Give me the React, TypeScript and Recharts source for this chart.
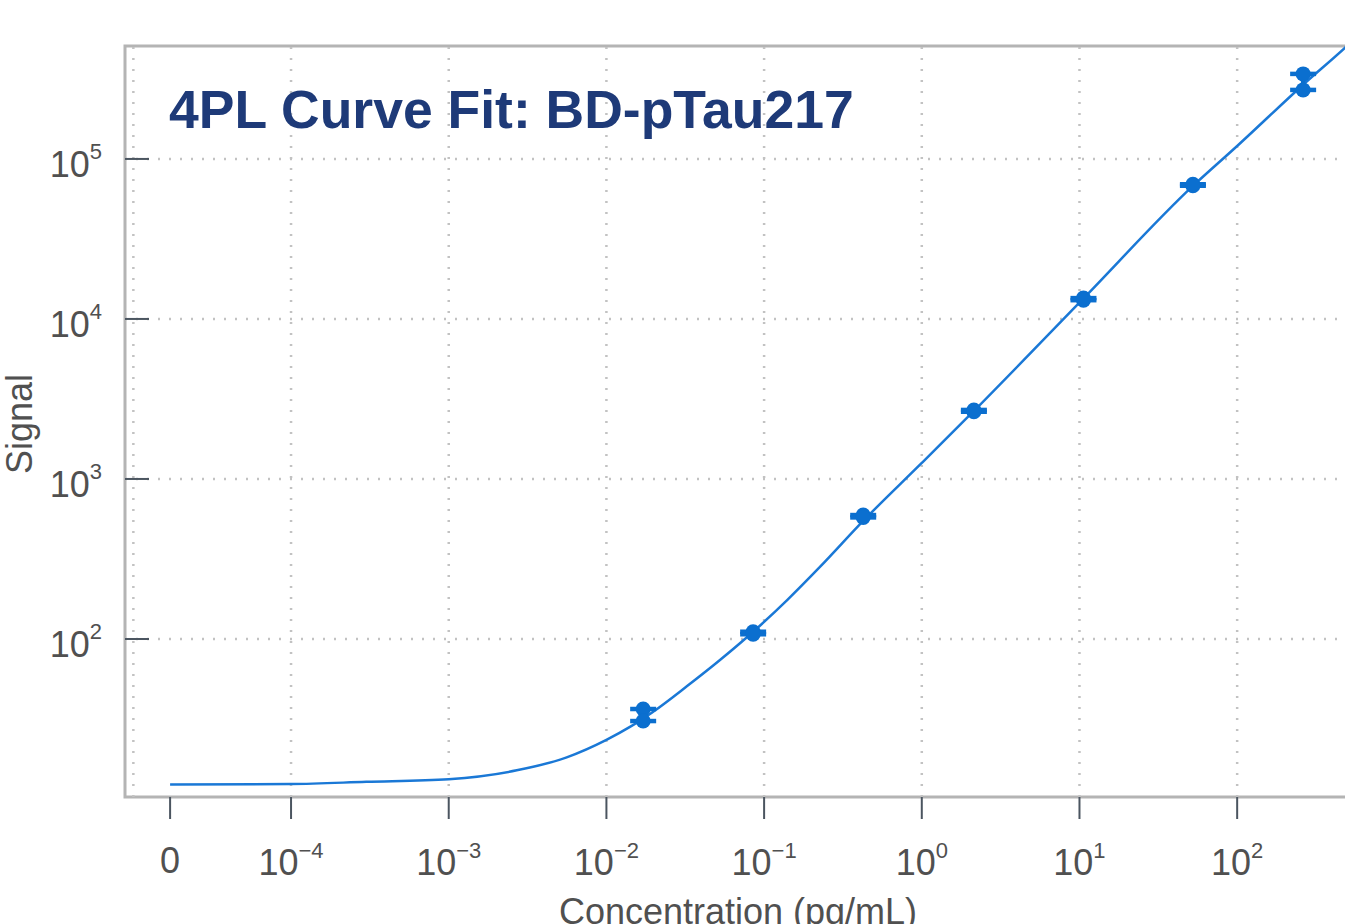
import React from 'react';
import {
  ComposedChart,
  Line,
  Scatter,
  XAxis,
  YAxis,
  ReferenceLine,
  ReferenceArea,
  ErrorBar,
} from 'recharts';

// ---- data ----
const standardConc = [0.0171, 0.0852, 0.425, 2.14, 10.6, 52.4, 262];
const signalRep1 = [36.5, 111, 595, 2700, 13500, 69500, 340000];
const signalRep2 = [30.7, 107, 575, 2630, 13100, 68000, 270000];

const curveConc = [
  0, 1e-4, 3.0e-4, 1e-3, 2.7e-3, 5.6e-3, 0.01, 0.0141, 0.0197, 0.0325, 0.0525,
  0.0849, 0.14, 0.226, 0.425, 1, 2.14, 10.5, 52.4, 100, 261, 482, 600,
];
const curveSignal = [
  12.3, 12.4, 12.8, 13.3, 15.1, 18.2, 23.4, 28.2, 35.0, 50.8, 73.9, 110.6, 175,
  282, 547, 1259, 2661, 13300, 67800, 120500, 290000, 494000, 604000,
];

const xTickDecades = [-4, -3, -2, -1, 0, 1, 2];
const gridDecades = [-5, -4, -3, -2, -1, 0, 1, 2];
const yTicks = [100, 1000, 10000, 100000];

const title = '4PL Curve Fit: BD-pTau217';
const xTitle = 'Concentration (pg/mL)';
const yTitle = 'Signal';

// axis break: where "0" sits on the log axis
const ZERO_LX = -4.767;
const X_DOMAIN: [number, number] = [-5.053, 2.779];
const Y_DOMAIN: [number, number] = [10.29, 508000];

const toLx = (c: number) => (c > 0 ? Math.log10(c) : ZERO_LX);

const curveData = curveConc.map((c, i) => ({ lx: toLx(c), signal: curveSignal[i] }));
const stdData = standardConc.map((c, i) => ({
  lx: toLx(c),
  rep1: signalRep1[i],
  rep2: signalRep2[i],
  err: [signalRep1[i] - signalRep2[i], 0],
}));

const FONT = '"Liberation Sans", Arial, Helvetica, sans-serif';
const TEXT = '#505050';
const TICK = '#4b5560';
const BLUE_LINE = '#1a78d6';
const BLUE_PT = '#0b6fcf';
const GRID = '#c2c2c2';

const supStr = (n: number) => (n < 0 ? '\u2212' + Math.abs(n) : String(n));

const XTick = (props: any) => {
  const { x, y, payload } = props;
  const v = payload.value;
  if (Math.abs(v - ZERO_LX) < 1e-6) {
    return (
      <text x={x} y={y + 54} textAnchor="middle" fontSize={36} fill={TEXT} fontFamily={FONT}>
        0
      </text>
    );
  }
  const e = Math.round(v);
  return (
    <text x={x} y={y + 56} textAnchor="middle" fill={TEXT} fontFamily={FONT}>
      <tspan fontSize={36}>10</tspan>
      <tspan fontSize={22} dy={-17}>
        {supStr(e)}
      </tspan>
    </text>
  );
};

const YTick = (props: any) => {
  const { x, y, payload } = props;
  const e = Math.round(Math.log10(payload.value));
  return (
    <g>
      <line x1={x} x2={x + 24} y1={y} y2={y} stroke={TICK} strokeWidth={2} />
      <text x={x - 23} y={y + 18} textAnchor="end" fill={TEXT} fontFamily={FONT}>
        <tspan fontSize={36}>10</tspan>
        <tspan fontSize={22} dy={-18}>
          {supStr(e)}
        </tspan>
      </text>
    </g>
  );
};

const Dot = (props: any) => {
  const { cx, cy } = props;
  if (cx == null || cy == null) return null;
  return <circle cx={cx} cy={cy} r={7.5} fill={BLUE_PT} />;
};

export default function App() {
  return (
    <div
      style={{
        position: 'absolute',
        left: 0,
        top: 0,
        width: 1345,
        height: 924,
        overflow: 'hidden',
        background: '#fff',
      }}
    >
      <ComposedChart
        width={1400}
        height={924}
        margin={{ top: 46, right: 40, bottom: 0, left: 0 }}
      >
        <XAxis
          dataKey="lx"
          type="number"
          domain={X_DOMAIN}
          allowDataOverflow
          ticks={[ZERO_LX, ...xTickDecades]}
          interval={0}
          height={127}
          axisLine={false}
          tickLine={{ stroke: TICK, strokeWidth: 2 }}
          tickSize={22}
          tickMargin={0}
          tick={<XTick />}
        />
        <YAxis
          type="number"
          scale="log"
          domain={Y_DOMAIN}
          allowDataOverflow
          ticks={yTicks}
          interval={0}
          width={125}
          axisLine={false}
          tickLine={false}
          tickSize={0}
          tickMargin={0}
          tick={<YTick />}
        />
        {gridDecades.map((d) => (
          <ReferenceLine
            key={'gx' + d}
            x={d}
            stroke={GRID}
            strokeWidth={2.5}
            strokeDasharray="2 9"
          />
        ))}
        {yTicks.map((t) => (
          <ReferenceLine
            key={'gy' + t}
            y={t}
            stroke={GRID}
            strokeWidth={2.5}
            strokeDasharray="2 9"
          />
        ))}
        <ReferenceArea
          x1={X_DOMAIN[0]}
          x2={X_DOMAIN[1]}
          y1={Y_DOMAIN[0]}
          y2={Y_DOMAIN[1]}
          fill="none"
          stroke="#b4b4b4"
          strokeWidth={3}
          ifOverflow="visible"
        />
        <Line
          data={curveData}
          dataKey="signal"
          type="monotone"
          stroke={BLUE_LINE}
          strokeWidth={2.5}
          dot={false}
          activeDot={false}
          isAnimationActive={false}
        />
        <Scatter
          data={stdData}
          dataKey="rep1"
          fill={BLUE_PT}
          shape={<Dot />}
          isAnimationActive={false}
        >
          <ErrorBar dataKey="err" direction="y" width={13} strokeWidth={4.5} stroke={BLUE_PT} />
        </Scatter>
        <Scatter
          data={stdData}
          dataKey="rep2"
          fill={BLUE_PT}
          shape={<Dot />}
          isAnimationActive={false}
        />
      </ComposedChart>
      <svg
        width={1345}
        height={924}
        style={{ position: 'absolute', left: 0, top: 0, pointerEvents: 'none' }}
      >
        <text
          x={169}
          y={128}
          fontSize={53.5}
          fontWeight="bold"
          fill="#1e3a78"
          fontFamily={FONT}
        >
          {title}
        </text>
        <text x={738} y={924} textAnchor="middle" fontSize={36} fill={TEXT} fontFamily={FONT}>
          {xTitle}
        </text>
        <text
          x={32}
          y={424}
          textAnchor="middle"
          fontSize={36}
          fill={TEXT}
          fontFamily={FONT}
          transform="rotate(-90 32 424)"
        >
          {yTitle}
        </text>
      </svg>
    </div>
  );
}
